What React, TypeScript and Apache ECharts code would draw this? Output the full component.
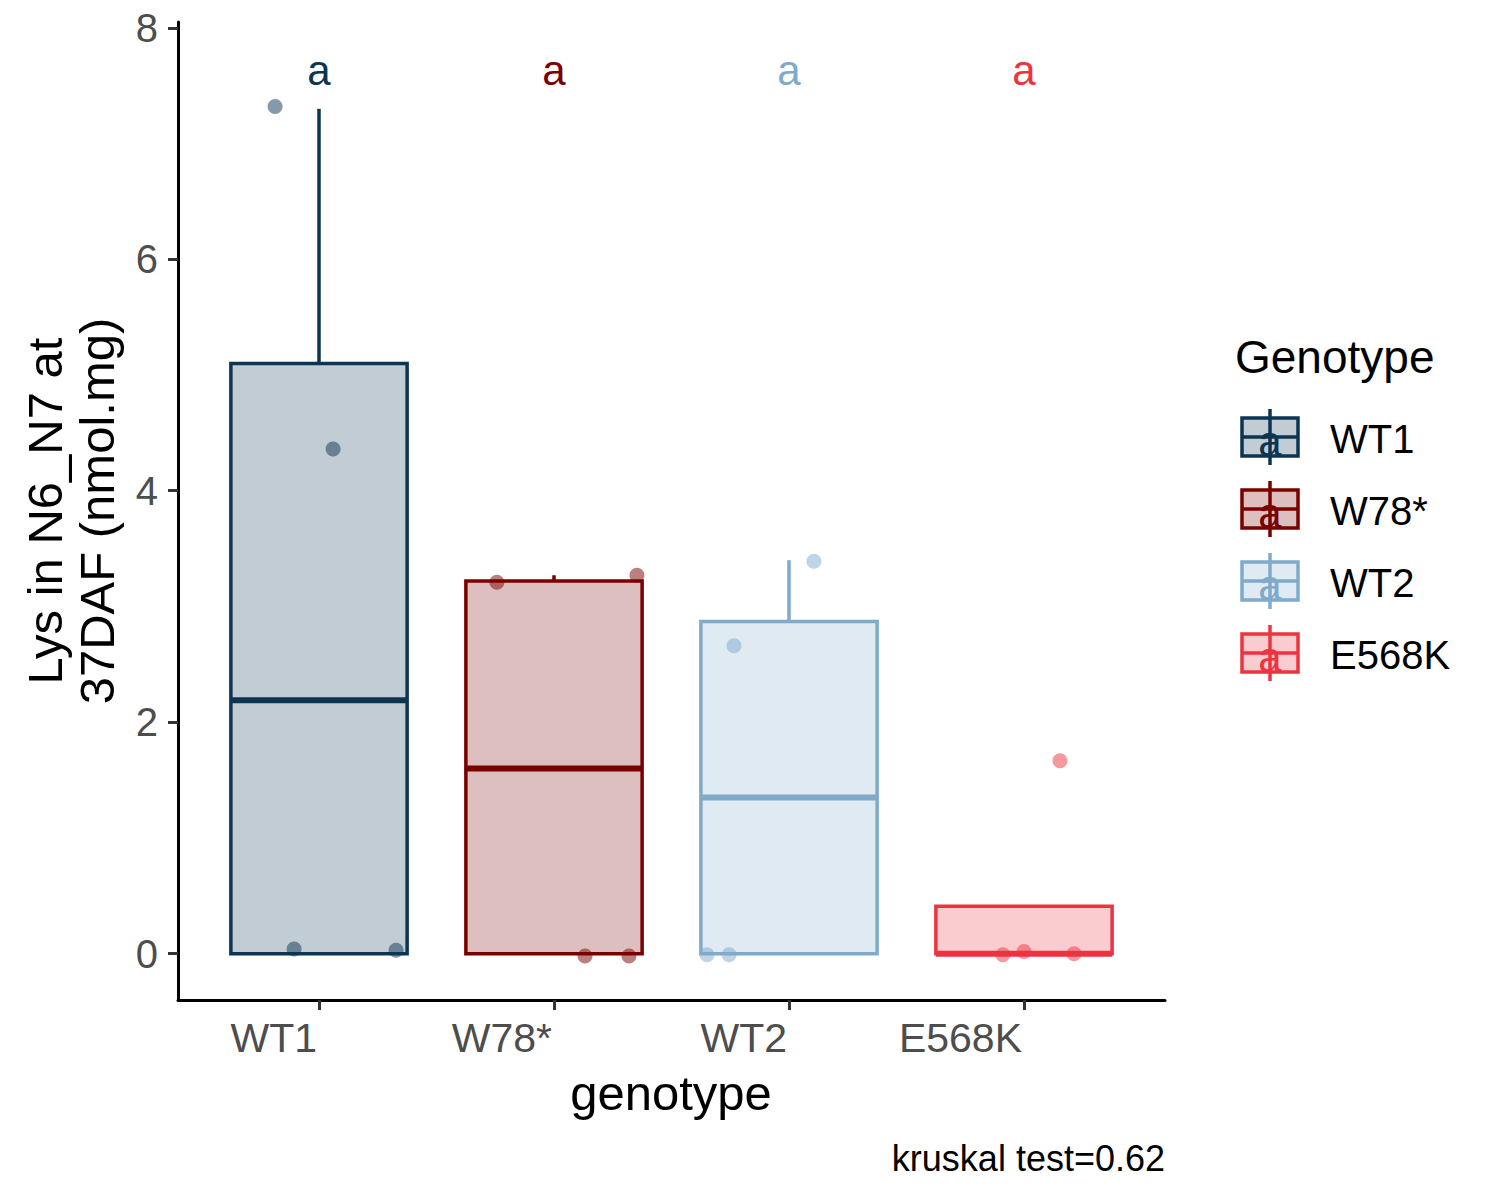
import React, { useEffect, useRef } from "react";
import * as echarts from "echarts";

const categories = ["WT1", "W78*", "WT2", "E568K"];
const colors = ["#0C3552", "#7A0000", "#7FAACA", "#EE3340"];
// [lower whisker, Q1, median, Q3, upper whisker]
const boxStats = [
  [0, 0, 2.19, 5.1, 7.3],
  [0, 0, 1.6, 3.22, 3.27],
  [0, 0, 1.35, 2.87, 3.4],
  [0, 0, 0.0, 0.41, 0.41],
];
const pointValues = [
  [7.32, 4.36, 0.04, 0.03],
  [3.21, 3.27, -0.02, -0.02],
  [3.39, 2.66, -0.01, -0.01],
  [1.667, -0.01, 0.02, 0.0],
];
const jitterOffsets = [
  [-0.187, 0.06, -0.106, 0.328],
  [-0.243, 0.353, 0.132, 0.319],
  [0.106, -0.234, -0.349, -0.255],
  [0.153, -0.09, 0.0, 0.213],
];
const letters = ["a", "a", "a", "a"];
const letterY = 7.63;
const yTicks = [0, 2, 4, 6, 8];
const xTicks = [1, 2, 3, 4];

const FONT = "Liberation Sans";

function hexA(hex: string, a: number) {
  const r = parseInt(hex.slice(1, 3), 16);
  const g = parseInt(hex.slice(3, 5), 16);
  const b = parseInt(hex.slice(5, 7), 16);
  return `rgba(${r},${g},${b},${a})`;
}

export default function App() {
  const ref = useRef<HTMLDivElement>(null);
  useEffect(() => {
    document.body.style.margin = "0";
    const chart = echarts.init(ref.current!, null, { renderer: "svg" });

    const boxData = boxStats.map((s, i) => [i + 1, ...s, i]);
    const scatterSeries = pointValues.map((vals, i) => ({
      type: "scatter",
      name: categories[i] + " points",
      z: 5,
      symbolSize: 15,
      itemStyle: { color: hexA(colors[i], 0.5), opacity: 1 },
      data: vals.map((v, j) => [i + 1 + jitterOffsets[i][j], v]),
    }));

    const legendGraphics: any[] = [];
    legendGraphics.push({
      type: "text",
      left: 1235,
      top: 334,
      style: { text: "Genotype", fontSize: 46, fontFamily: FONT, fill: "#000" },
    });
    categories.forEach((c, i) => {
      const cy = 437 + i * 72;
      const cx = 1270;
      legendGraphics.push({
        type: "group",
        children: [
          { type: "line", shape: { x1: cx, y1: cy - 28, x2: cx, y2: cy + 28 }, style: { stroke: colors[i], lineWidth: 3.5 } },
          { type: "rect", shape: { x: 1242, y: cy - 19, width: 56, height: 38 }, style: { fill: hexA(colors[i], 0.25), stroke: colors[i], lineWidth: 3.5 } },
          { type: "line", shape: { x1: 1242, y1: cy, x2: 1298, y2: cy }, style: { stroke: colors[i], lineWidth: 3.5 } },
          { type: "text", x: cx, y: cy + 4, style: { text: "a", fontSize: 42, fontFamily: FONT, fill: colors[i], align: "center", verticalAlign: "middle" } },
          { type: "text", x: 1330, y: cy + 2, style: { text: c, fontSize: 40, fontFamily: FONT, fill: "#000", verticalAlign: "middle" } },
        ],
      });
    });

    chart.setOption({
      animation: false,
      backgroundColor: "#fff",
      grid: { left: 178, top: 22, width: 987, height: 978, containLabel: false },
      xAxis: {
        type: "value",
        min: 0.4,
        max: 4.6,
        splitLine: { show: false },
        axisLine: { show: true, onZero: false, lineStyle: { color: "#000", width: 3 } },
        axisTick: { show: true, customValues: xTicks, length: 10, lineStyle: { color: "#333", width: 3 } },
        axisLabel: {
          customValues: xTicks,
          formatter: (v: number) => categories[Math.round(v) - 1] ?? "",
          align: "right",
          margin: 17,
          fontSize: 41,
          fontFamily: FONT,
          color: "#4D4D4D",
          padding: [0, 2, 0, 0],
        },
      },
      yAxis: {
        type: "value",
        min: -0.4,
        max: 8.05,
        splitLine: { show: false },
        axisLine: { show: true, onZero: false, lineStyle: { color: "#000", width: 3 } },
        axisTick: { show: true, customValues: yTicks, length: 10, lineStyle: { color: "#333", width: 3 } },
        axisLabel: {
          customValues: yTicks,
          margin: 20,
          fontSize: 40,
          fontFamily: FONT,
          color: "#4D4D4D",
        },
      },
      graphic: [
        {
          type: "text",
          x: 71,
          y: 511,
          rotation: Math.PI / 2,
          style: {
            text: "Lys in N6_N7 at\n37DAF (nmol.mg)",
            fontSize: 49,
            fontFamily: FONT,
            fill: "#000",
            align: "center",
            verticalAlign: "middle",
            lineHeight: 52,
          },
        },
        {
          type: "text",
          x: 671,
          y: 1093,
          style: { text: "genotype", fontSize: 49, fontFamily: FONT, fill: "#000", align: "center", verticalAlign: "middle" },
        },
        {
          type: "text",
          x: 1165,
          y: 1158,
          style: { text: "kruskal test=0.62", fontSize: 36, fontFamily: FONT, fill: "#000", align: "right", verticalAlign: "middle" },
        },
        ...legendGraphics,
      ],
      series: [
        {
          type: "custom",
          name: "boxes",
          z: 2,
          data: boxData,
          renderItem: (params: any, api: any) => {
            const x = api.value(0);
            const lo = api.value(1);
            const q1 = api.value(2);
            const med = api.value(3);
            const q3 = api.value(4);
            const hi = api.value(5);
            const ci = api.value(6);
            const col = colors[ci];
            const halfW = api.size([0.75, 0])[0] / 2;
            const pq1 = api.coord([x, q1]);
            const pq3 = api.coord([x, q3]);
            const pmed = api.coord([x, med]);
            const phi = api.coord([x, hi]);
            const plo = api.coord([x, lo]);
            const children: any[] = [];
            if (hi > q3) {
              children.push({ type: "line", shape: { x1: phi[0], y1: phi[1], x2: pq3[0], y2: pq3[1] }, style: { stroke: col, lineWidth: 3.5 } });
            }
            if (lo < q1) {
              children.push({ type: "line", shape: { x1: plo[0], y1: plo[1], x2: pq1[0], y2: pq1[1] }, style: { stroke: col, lineWidth: 3.5 } });
            }
            children.push({
              type: "rect",
              shape: { x: pq3[0] - halfW, y: pq3[1], width: halfW * 2, height: pq1[1] - pq3[1] },
              style: { fill: hexA(col, 0.25), stroke: col, lineWidth: 3.5 },
            });
            children.push({
              type: "line",
              shape: { x1: pmed[0] - halfW, y1: pmed[1], x2: pmed[0] + halfW, y2: pmed[1] },
              style: { stroke: col, lineWidth: 6 },
            });
            return { type: "group", children };
          },
        },
        ...scatterSeries,
        {
          type: "scatter",
          name: "letters",
          z: 6,
          symbolSize: 0,
          itemStyle: { opacity: 1 },
          data: letters.map((l, i) => ({
            value: [i + 1, letterY],
            label: {
              show: true,
              position: "inside",
              formatter: l,
              color: colors[i],
              opacity: 1,
              fontSize: 42,
              fontFamily: FONT,
            },
          })),
        },
      ],
    });
    return () => chart.dispose();
  }, []);
  return <div ref={ref} style={{ width: 1500, height: 1200 }} />;
}
